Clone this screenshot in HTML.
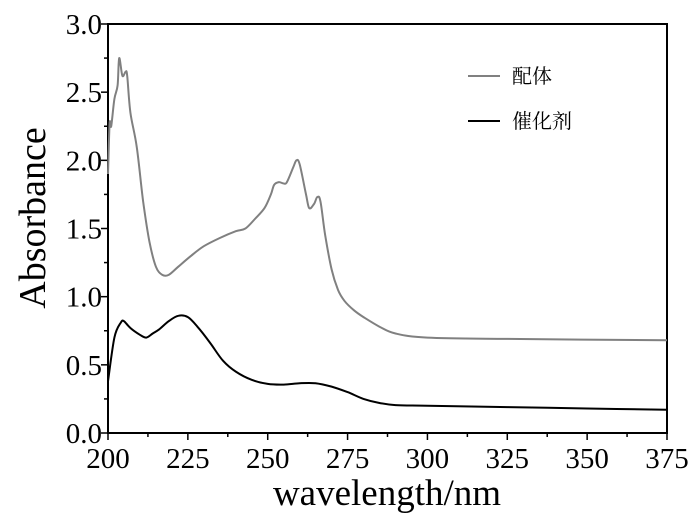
<!DOCTYPE html>
<html><head><meta charset="utf-8"><style>
body{margin:0;background:#fff}
svg text{font-family:"Liberation Serif","Noto Serif CJK SC",serif}
</style></head><body>
<svg id="c" width="700" height="527" xmlns="http://www.w3.org/2000/svg"></svg>
<script>
const ligandX=[200,200.5,201,202,203,203.5,204.5,205.5,206,207,209,211,213,215,217,219,222,226,230,235,240,243,246,249,251,252,253.5,255,256,258,259,260,262,263,264.5,265.5,266.5,268,270,272,274,277,280,285,290,300,325,375];
const ligandY=[1.9,2.27,2.25,2.45,2.55,2.75,2.62,2.65,2.62,2.35,2.1,1.7,1.4,1.22,1.16,1.16,1.22,1.3,1.37,1.43,1.48,1.5,1.57,1.65,1.75,1.82,1.84,1.83,1.84,1.95,2.0,1.97,1.75,1.65,1.68,1.73,1.7,1.45,1.2,1.05,0.97,0.9,0.85,0.78,0.73,0.70,0.69,0.68];
const catX=[200,202,204,205,207,210,212,214,216,219,222,225,228,232,236,240,245,250,255,260,265,270,275,280,285,290,300,325,350,375];
const catY=[0.38,0.7,0.81,0.82,0.77,0.72,0.7,0.73,0.76,0.82,0.86,0.85,0.78,0.66,0.53,0.45,0.39,0.36,0.355,0.365,0.365,0.34,0.3,0.25,0.22,0.205,0.2,0.19,0.18,0.17];
const xTicks=[200,225,250,275,300,325,350,375];
const yTicks=[0,0.5,1,1.5,2,2.5,3];
const L=108,R=667,T=24,B=433;
const sx=v=>L+(v-200)/175*(R-L), sy=v=>B-v/3*(B-T);
const svg=document.getElementById('c');const NS='http://www.w3.org/2000/svg';
function mk(t,a,p){const e=document.createElementNS(NS,t);for(const k in a)e.setAttribute(k,a[k]);(p||svg).appendChild(e);return e;}
const frame=mk('rect',{x:L,y:T,width:R-L,height:B-T,fill:'none',stroke:'#000','stroke-width':2});


xTicks.forEach((v,i)=>{
 const t=mk('line',{x1:sx(v),x2:sx(v),y1:B,y2:B+7,stroke:'#000','stroke-width':1.5});
 
 
 if(i<xTicks.length-1){const m=mk('line',{x1:sx(v+12.5),x2:sx(v+12.5),y1:B,y2:B+4,stroke:'#000','stroke-width':1.5});
 
 }
 const tx=mk('text',{x:sx(v),y:B+35,'text-anchor':'middle','font-size':29});tx.textContent=v;
 
 
});
yTicks.forEach((v,i)=>{
 const t=mk('line',{x1:L-7,x2:L,y1:sy(v),y2:sy(v),stroke:'#000','stroke-width':1.5});
 
 
 if(i<yTicks.length-1){const m=mk('line',{x1:L-4,x2:L,y1:sy(v+0.25),y2:sy(v+0.25),stroke:'#000','stroke-width':1.5});
 
 }
 const tx=mk('text',{x:L-6,y:sy(v)+10,'text-anchor':'end','font-size':29});tx.textContent=v.toFixed(1);
 
 
});
function line(xs,ys,col,name){
 const P=xs.map((x,i)=>[sx(x),sy(ys[i])]);
 let d='M'+P[0][0].toFixed(1)+','+P[0][1].toFixed(1);
 for(let i=0;i<P.length-1;i++){const p0=P[i-1]||P[i],p1=P[i],p2=P[i+1],p3=P[i+2]||p2;
  const c1=[p1[0]+(p2[0]-p0[0])/6,p1[1]+(p2[1]-p0[1])/6],c2=[p2[0]-(p3[0]-p1[0])/6,p2[1]-(p3[1]-p1[1])/6];
  d+='C'+c1.map(n=>n.toFixed(1)).join(',')+' '+c2.map(n=>n.toFixed(1)).join(',')+' '+p2[0].toFixed(1)+','+p2[1].toFixed(1);}
 const p=mk('path',{d:d,fill:'none',stroke:col,'stroke-width':2,'stroke-linejoin':'round'});
 
 }
line(ligandX,ligandY,'#808080','ligand-series');
line(catX,catY,'#000','catalyst-series');
const xt=mk('text',{x:387,y:505,'text-anchor':'middle','font-size':37});xt.textContent='wavelength/nm';


const yt=mk('text',{x:0,y:0,'text-anchor':'middle','font-size':38,transform:'translate(45,218) rotate(-90)'});yt.textContent='Absorbance';


[['配体','#808080',76],['催化剂','#000',121]].forEach(([n,c,y])=>{
 const l=mk('line',{x1:468,x2:500,y1:y,y2:y,stroke:c,'stroke-width':2});
 
 
 const t=mk('text',{x:512,y:y+7,'font-size':20});t.textContent=n;
 
 
});
</script>
</body></html>
